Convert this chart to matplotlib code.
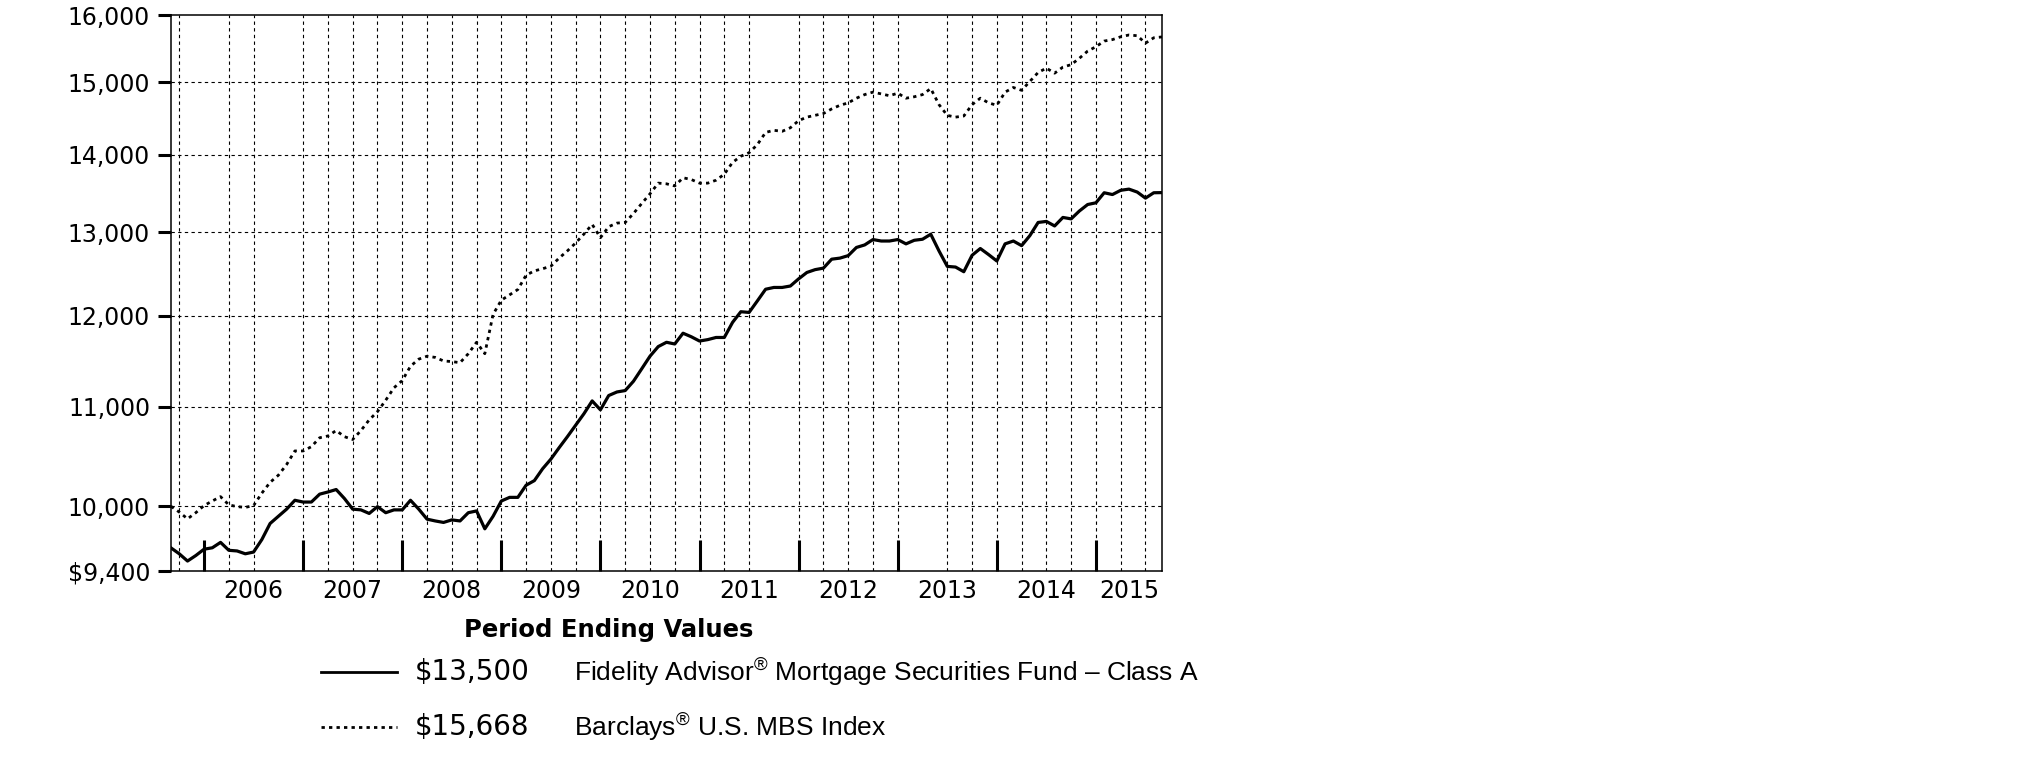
import matplotlib
matplotlib.use('agg')
import matplotlib.pyplot as plt
from matplotlib.lines import Line2D
from matplotlib.ticker import FixedLocator, NullLocator, FixedFormatter
import numpy as np

plt.rcParams['mathtext.fontset'] = 'custom'
plt.rcParams['mathtext.rm'] = 'Liberation Sans'

# monthly values, Aug 2005 .. Aug 2015 (hypothetical $10,000 investment)
fund = [9610, 9556, 9490, 9540, 9598, 9611, 9661, 9588, 9582, 9556, 9572, 9687,
        9837, 9905, 9973, 10058, 10041, 10041, 10117, 10138, 10162, 10075, 9973, 9966,
        9932, 9997, 9939, 9966, 9966, 10058, 9973, 9878, 9861, 9847, 9871, 9861,
        9939, 9956, 9787, 9905, 10051, 10086, 10086, 10204, 10249, 10366, 10462, 10577,
        10689, 10807, 10926, 11061, 10967, 11118, 11156, 11171, 11271, 11406, 11544, 11651,
        11699, 11680, 11801, 11761, 11713, 11729, 11753, 11753, 11924, 12046, 12038, 12171,
        12308, 12329, 12329, 12346, 12431, 12507, 12541, 12559, 12667, 12680, 12710, 12810,
        12841, 12907, 12889, 12889, 12907, 12854, 12898, 12911, 12973, 12767, 12580, 12572,
        12516, 12714, 12797, 12723, 12645, 12854, 12889, 12832, 12956, 13120, 13133, 13076,
        13183, 13165, 13265, 13347, 13369, 13498, 13475, 13530, 13545, 13507, 13429, 13498,
        13500]
index = [10000, 9945, 9881, 9939, 10007, 10051, 10093, 10014, 9997, 9990, 10007, 10127,
         10232, 10302, 10408, 10544, 10544, 10587, 10678, 10696, 10752, 10689, 10660, 10752,
         10862, 10948, 11068, 11201, 11278, 11434, 11512, 11544, 11531, 11492, 11485, 11473,
         11572, 11699, 11572, 12015, 12180, 12242, 12305, 12475, 12526, 12552, 12582, 12681,
         12768, 12865, 12975, 13096, 12930, 13067, 13112, 13120, 13233, 13360, 13484, 13623,
         13614, 13586, 13693, 13670, 13623, 13623, 13661, 13740, 13896, 13978, 14025, 14134,
         14300, 14329, 14315, 14364, 14462, 14511, 14536, 14561, 14625, 14676, 14710, 14776,
         14827, 14862, 14837, 14811, 14847, 14776, 14796, 14827, 14913, 14685, 14535, 14511,
         14526, 14685, 14776, 14710, 14676, 14862, 14928, 14888, 15015, 15144, 15207, 15134,
         15222, 15258, 15352, 15457, 15522, 15606, 15628, 15670, 15697, 15686, 15575, 15655,
         15668]
months = np.arange(len(fund))  # 0 = Aug 2005

years = ['2006', '2007', '2008', '2009', '2010', '2011', '2012', '2013', '2014', '2015']
year_end_months = [4, 16, 28, 40, 52, 64, 76, 88, 100, 112]   # December of each year
label_months = [10, 22, 34, 46, 58, 70, 82, 94, 106, 116]

yticks = [9400, 10000, 11000, 12000, 13000, 14000, 15000, 16000]
ylabels = ['$9,400', '10,000', '11,000', '12,000', '13,000', '14,000', '15,000', '16,000']

legend_values = ['$13,500', '$15,668']
legend_names = [r'Fidelity Advisor$^{\mathrm{®}}$ Mortgage Securities Fund – Class A',
                r'Barclays$^{\mathrm{®}}$ U.S. MBS Index']

grid_months = [m for m in range(1, 120, 3) if m not in (4, 13, 73, 91)]

W, H = 2026, 774
fig = plt.figure(figsize=(W/100, H/100), dpi=100)
ax = fig.add_axes([171/W, 1-571/H, 991/W, 556/H])

ax.set_yscale('log')
ax.set_xlim(0, 120)
ax.set_ylim(9400, 16000)

grid_kw = dict(color='black', lw=0.8, ls=(0, (3, 3)), zorder=1)
for m in grid_months:
    ax.axvline(m, **grid_kw)
for v in yticks[1:-1]:
    ax.axhline(v, **grid_kw)

ax.plot(months, fund, color='black', lw=2.3, solid_joinstyle='round', zorder=3)
ax.plot(months, index, color='black', lw=2.0, ls=(0, (1.2, 1.5)), zorder=3)

ax.yaxis.set_major_locator(FixedLocator(yticks))
ax.yaxis.set_major_formatter(FixedFormatter(ylabels))
ax.yaxis.set_minor_locator(NullLocator())
ax.tick_params(axis='y', which='major', direction='out', length=9.5, width=2.2,
               pad=5.5, labelsize=17)

ax.xaxis.set_major_locator(FixedLocator(year_end_months))
ax.xaxis.set_minor_locator(FixedLocator(label_months))
ax.xaxis.set_major_formatter(FixedFormatter([''] * len(year_end_months)))
ax.xaxis.set_minor_formatter(FixedFormatter(years))
ax.tick_params(axis='x', which='major', direction='in', length=22, width=2.2)
ax.tick_params(axis='x', which='minor', length=0, pad=6, labelsize=17)

for s in ax.spines.values():
    s.set_linewidth(1.1)

fig.text(609/W, 1-630/H, 'Period Ending Values', ha='center', va='center',
         fontsize=17.5, family='DejaVu Sans', weight='bold')

row_y = [672, 727]
styles = ['-', (0, (1.2, 1.5))]
for i in range(2):
    y = 1 - row_y[i]/H
    fig.add_artist(Line2D([321/W, 397/W], [y, y], color='black', lw=2.0, ls=styles[i]))
    fig.text(415/W, y, legend_values[i], ha='left', va='center', fontsize=20,
             family='DejaVu Sans')
    fig.text(574/W, y, legend_names[i], ha='left', va='center', fontsize=19,
             family='Liberation Sans')

fig.savefig('out.png', dpi=100)
